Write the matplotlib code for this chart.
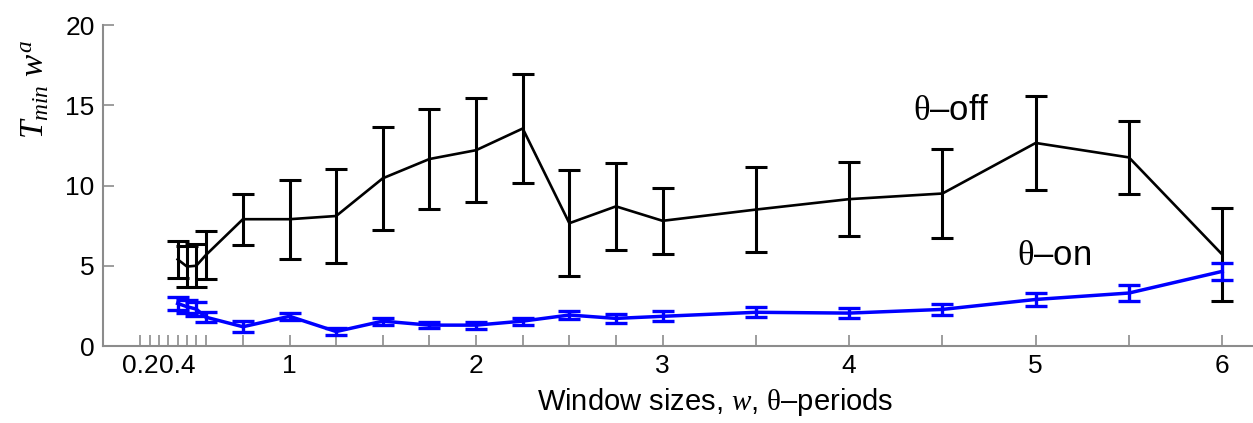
import matplotlib
matplotlib.use("Agg")
import matplotlib.pyplot as plt
import numpy as np

plt.rcParams['font.family'] = ['Liberation Sans', 'DejaVu Sans']
plt.rcParams['mathtext.fontset'] = 'custom'
plt.rcParams['mathtext.rm'] = 'Liberation Serif'
plt.rcParams['mathtext.it'] = 'Liberation Serif:italic'
plt.rcParams['mathtext.bf'] = 'Liberation Serif:bold'

# ---- data ----
w_off = [0.4, 0.45, 0.5, 0.55, 0.75, 1.0, 1.25, 1.5, 1.75, 2.0, 2.25, 2.5, 2.75, 3.0,
         3.5, 4.0, 4.5, 5.0, 5.5, 6.0]
t_off = [5.4, 4.95, 5.0, 5.65, 7.9, 7.9, 8.1, 10.45, 11.65, 12.2, 13.55, 7.65, 8.7, 7.8,
         8.5, 9.15, 9.5, 12.65, 11.75, 5.7]
err_off = [1.15, 1.3, 1.35, 1.5, 1.6, 2.45, 2.95, 3.2, 3.1, 3.25, 3.4, 3.3, 2.7, 2.05,
           2.65, 2.3, 2.75, 2.95, 2.25, 2.9]

w_on = [0.4, 0.45, 0.5, 0.55, 0.75, 1.0, 1.25, 1.5, 1.75, 2.0, 2.25, 2.5, 2.75, 3.0,
        3.5, 4.0, 4.5, 5.0, 5.5, 6.0]
t_on = [2.65, 2.45, 2.3, 1.8, 1.2, 1.85, 0.9, 1.55, 1.3, 1.3, 1.55, 1.93, 1.72, 1.85,
        2.1, 2.05, 2.28, 2.9, 3.3, 4.65]
err_on = [0.38, 0.4, 0.42, 0.3, 0.33, 0.2, 0.2, 0.22, 0.2, 0.22, 0.22, 0.27, 0.28, 0.3,
          0.3, 0.33, 0.36, 0.42, 0.5, 0.55]

tick_pos = [0.2, 0.25, 0.3, 0.35, 0.4, 0.45, 0.5, 0.55, 0.75, 1.0, 1.25, 1.5, 1.75, 2.0,
            2.25, 2.5, 2.75, 3.0, 3.5, 4.0, 4.5, 5.0, 5.5, 6.0]
tick_lab = ['0.2', '', '', '', '0.4', '', '', '', '', '1', '', '', '', '2',
            '', '', '', '3', '', '4', '', '5', '', '6']
ytick_pos = [0, 5, 10, 15, 20]

fig = plt.figure(figsize=(12.53, 4.23), dpi=100)
ax = fig.add_axes([103/1253, 1-346/423, 1-103/1253, (346-25)/423])

ax.errorbar(w_off, t_off, yerr=err_off, color='black', lw=1.9, elinewidth=2.2,
            capsize=8, capthick=2.2)
ax.errorbar(w_on, t_on, yerr=err_on, color='#0000ff', lw=2.5, elinewidth=2.4,
            capsize=8, capthick=2.4)

ax.set_xlim(0, 6.165)
ax.set_ylim(0, 20)
ax.set_xticks(tick_pos)
ax.set_xticklabels(tick_lab, fontsize=19)
ax.set_yticks(ytick_pos)
ax.set_yticklabels([str(v) for v in ytick_pos], fontsize=19)

for s in ['top', 'right']:
    ax.spines[s].set_visible(False)
for s in ['left', 'bottom']:
    ax.spines[s].set_color('#8c8c8c')
    ax.spines[s].set_linewidth(1.5)
ax.tick_params(direction='in', length=8, width=1.2, color='#8c8c8c', labelcolor='black', pad=6)

xl = ax.set_xlabel(r'Window sizes, $w$, $\mathrm{\theta}$' + '\u2013periods', fontsize=21)
fig.canvas.draw()
wpx = xl.get_window_extent().width
ax.xaxis.set_label_coords((893 - wpx / 2 - 103) / 1150, (346 - 386) / 321)

ax.set_ylabel(r'$T_{min}\ w^{a}$', fontsize=24)
ax.yaxis.set_label_coords(-0.045, 0.80)

ax.text(4.34, 14.67, r'$\mathrm{\theta}$' + '\u2013off', fontsize=25, va='center', ha='left')
ax.text(4.90, 5.64, r'$\mathrm{\theta}$' + '\u2013on', fontsize=25, va='center', ha='left')

fig.savefig('out.png', dpi=100)
